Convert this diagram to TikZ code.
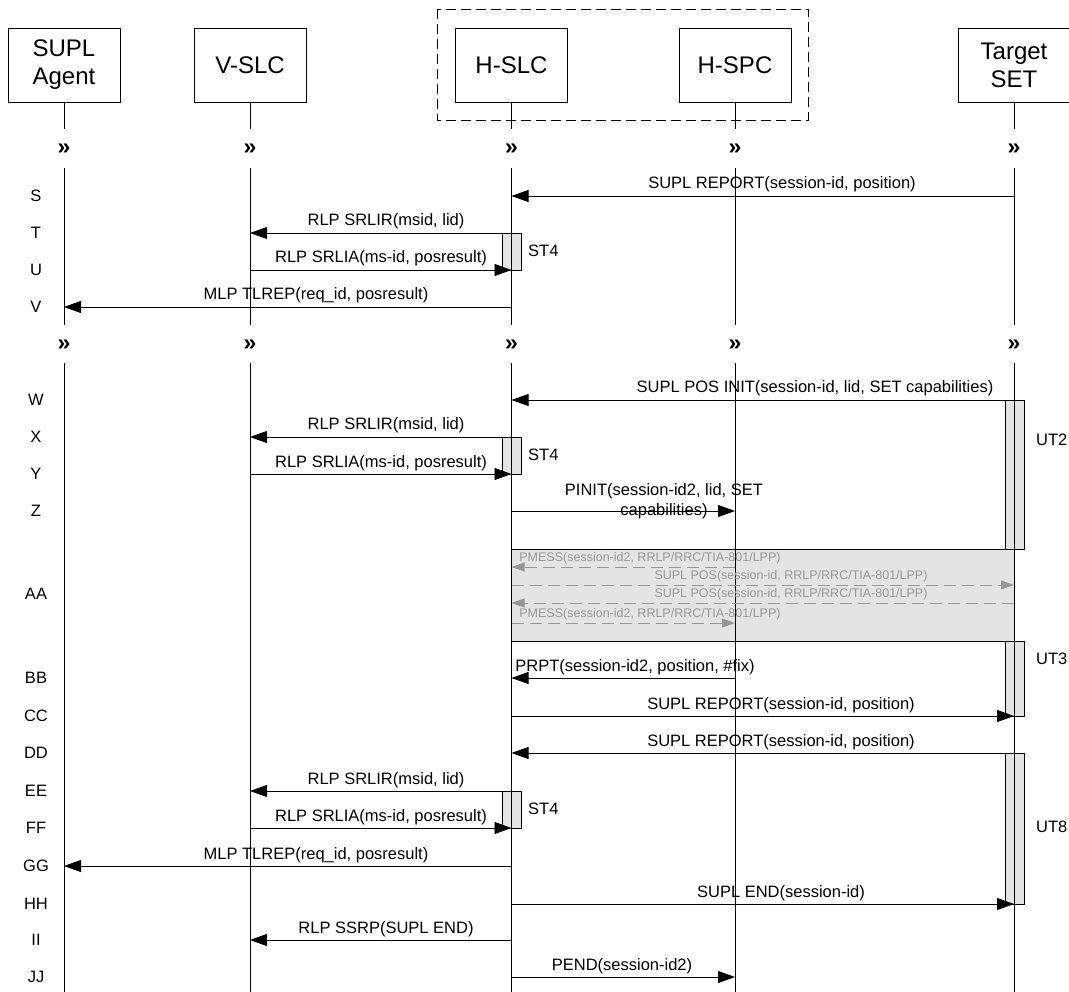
\documentclass[tikz,border=0pt]{standalone}
\usepackage{fontspec}
\setmainfont{Liberation Sans}
\usetikzlibrary{arrows.meta}
\definecolor{tgray}{RGB}{228,228,228}
\definecolor{agray}{RGB}{150,150,150}
\begin{document}
\begin{tikzpicture}[x=1pt,y=-1pt,
  actor/.style={draw, line width=0.8pt, minimum width=112pt, minimum height=74pt, inner sep=0pt, align=center, font=\fontsize{24}{28}\selectfont},
  life/.style={line width=0.8pt},
  brk/.style={font=\fontsize{23}{26}\selectfont\bfseries, inner sep=0pt},
  rowlbl/.style={font=\fontsize{16.5}{19}\selectfont, inner sep=0pt},
  msg/.style={line width=0.9pt, -{Triangle[length=17pt,width=12pt]}},
  lbl/.style={font=\fontsize{16.5}{19.5}\selectfont, inner sep=0pt, anchor=base, align=center},
  gmsg/.style={agray, line width=0.9pt, dash pattern=on 12pt off 6pt, -{Triangle[length=13pt,width=9pt]}},
  glbl/.style={font=\fontsize{12.5}{14}\selectfont, text=agray, inner sep=0pt, anchor=base},
  timer/.style={draw, line width=0.8pt, fill=tgray},
  tlbl/.style={font=\fontsize{16.5}{19}\selectfont, inner sep=0pt, anchor=west},
  grp/.style={draw, line width=0.8pt, dash pattern=on 10pt off 5pt}]
\useasboundingbox (0,0) rectangle (1069,992);

% group
\draw[grp] (437,9) rectangle (808,120);

% actors
\node[actor] (sa) at (64,65) {SUPL\\Agent};
\node[actor] (vs) at (250,65) {V-SLC};
\node[actor] (hs) at (511.5,65) {H-SLC};
\node[actor] (hp) at (735,65) {H-SPC};
\node[actor] (ts) at (1014,65) {Target\\SET};

% break coordinates
\coordinate (b1a) at (0,129);
\coordinate (b1) at (0,149);
\coordinate (b1b) at (0,168);
\coordinate (b2a) at (0,325);
\coordinate (b2) at (0,345);
\coordinate (b2b) at (0,363);
\coordinate (bot) at (0,992);

% row labels
\node[rowlbl] (rS) at (36,196) {S};
\node[rowlbl] (rT) at (36,233) {T};
\node[rowlbl] (rU) at (36,270) {U};
\node[rowlbl] (rV) at (36,307) {V};
\node[rowlbl] (rW) at (36,400) {W};
\node[rowlbl] (rX) at (36,437) {X};
\node[rowlbl] (rY) at (36,474) {Y};
\node[rowlbl] (rZ) at (36,511) {Z};
\node[rowlbl] (rAA) at (36,594) {AA};
\node[rowlbl] (rBB) at (36,678) {BB};
\node[rowlbl] (rCC) at (36,716) {CC};
\node[rowlbl] (rDD) at (36,753) {DD};
\node[rowlbl] (rEE) at (36,791) {EE};
\node[rowlbl] (rFF) at (36,828) {FF};
\node[rowlbl] (rGG) at (36,866) {GG};
\node[rowlbl] (rHH) at (36,904) {HH};
\node[rowlbl] (rII) at (36,940) {II};
\node[rowlbl] (rJJ) at (36,977) {JJ};

\coordinate (g1) at (0,567);
\coordinate (g2) at (0,585);
\coordinate (g3) at (0,603);
\coordinate (g4) at (0,623);

% gray region AA
\draw[fill=tgray, line width=0.8pt] (hs |- 0,549) rectangle (ts |- 0,641);

% timers
\draw[timer] (502,233) rectangle (521,270);
\draw[timer] (502,437) rectangle (521,474);
\draw[timer] (502,791) rectangle (521,828);
\draw[timer] (1005,400) rectangle (1024,549);
\draw[timer] (1005,641) rectangle (1024,716);
\draw[timer] (1005,753) rectangle (1024,904);

% lifelines
\foreach \n in {sa,vs,hs,hp,ts} {
  \draw[life] (\n.south) -- (\n |- b1a);
  \draw[life] (\n |- b1b) -- (\n |- b2a);
  \draw[life] (\n |- b2b) -- (\n |- bot);
  \node[brk] at (\n |- b1) {»};
  \node[brk] at (\n |- b2) {»};
}

% messages
\draw[msg] (ts |- rS) -- (hs |- rS);
\node[lbl] (lS) at (782,189) {SUPL REPORT(session-id, position)};
\draw[msg] (hs |- rT) -- (vs |- rT);
\node[lbl] (lT) at (386,226) {RLP SRLIR(msid, lid)};
\draw[msg] (vs |- rU) -- (hs |- rU);
\node[lbl] (lU) at (381,263) {RLP SRLIA(ms-id, posresult)};
\draw[msg] (hs |- rV) -- (sa |- rV);
\node[lbl] (lV) at (316,300) {MLP TLREP(req\_id, posresult)};

\draw[msg] (ts |- rW) -- (hs |- rW);
\node[lbl] (lW) at (815,393) {SUPL POS INIT(session-id, lid, SET capabilities)};
\draw[msg] (hs |- rX) -- (vs |- rX);
\node[lbl] (lX) at (386,430) {RLP SRLIR(msid, lid)};
\draw[msg] (vs |- rY) -- (hs |- rY);
\node[lbl] (lY) at (381,467) {RLP SRLIA(ms-id, posresult)};
\draw[msg] (hs |- rZ) -- (hp |- rZ);
\node[lbl] (lZ) at (664,515) {PINIT(session-id2, lid, SET\\capabilities)};

\draw[gmsg] (hp |- g1) -- (hs |- g1);
\node[glbl] (lg1) at (650,561) {PMESS(session-id2, RRLP/RRC/TIA-801/LPP)};
\draw[gmsg] (hs |- g2) -- (ts |- g2);
\node[glbl] (lg2) at (791,579) {SUPL POS(session-id, RRLP/RRC/TIA-801/LPP)};
\draw[gmsg] (ts |- g3) -- (hs |- g3);
\node[glbl] (lg3) at (791,597) {SUPL POS(session-id, RRLP/RRC/TIA-801/LPP)};
\draw[gmsg] (hs |- g4) -- (hp |- g4);
\node[glbl] (lg4) at (650,617) {PMESS(session-id2, RRLP/RRC/TIA-801/LPP)};

\draw[msg] (hp |- rBB) -- (hs |- rBB);
\node[lbl] (lBB) at (635,671) {PRPT(session-id2, position, \#fix)};
\draw[msg] (hs |- rCC) -- (ts |- rCC);
\node[lbl] (lCC) at (781,709) {SUPL REPORT(session-id, position)};
\draw[msg] (ts |- rDD) -- (hs |- rDD);
\node[lbl] (lDD) at (781,746) {SUPL REPORT(session-id, position)};
\draw[msg] (hs |- rEE) -- (vs |- rEE);
\node[lbl] (lEE) at (386,784) {RLP SRLIR(msid, lid)};
\draw[msg] (vs |- rFF) -- (hs |- rFF);
\node[lbl] (lFF) at (381,821) {RLP SRLIA(ms-id, posresult)};
\draw[msg] (hs |- rGG) -- (sa |- rGG);
\node[lbl] (lGG) at (316,859) {MLP TLREP(req\_id, posresult)};
\draw[msg] (hs |- rHH) -- (ts |- rHH);
\node[lbl] (lHH) at (781,897) {SUPL END(session-id)};
\draw[msg] (hs |- rII) -- (vs |- rII);
\node[lbl] (lII) at (386,933) {RLP SSRP(SUPL END)};
\draw[msg] (hs |- rJJ) -- (hp |- rJJ);
\node[lbl] (lJJ) at (622,970) {PEND(session-id2)};

% timer labels
\node[tlbl] (st1) at (528,251) {ST4};
\node[tlbl] (st2) at (528,455) {ST4};
\node[tlbl] (st3) at (528,809) {ST4};
\node[tlbl] (ut2) at (1036,440) {UT2};
\node[tlbl] (ut3) at (1036,659) {UT3};
\node[tlbl] (ut8) at (1036,827) {UT8};
\end{tikzpicture}
\end{document}
